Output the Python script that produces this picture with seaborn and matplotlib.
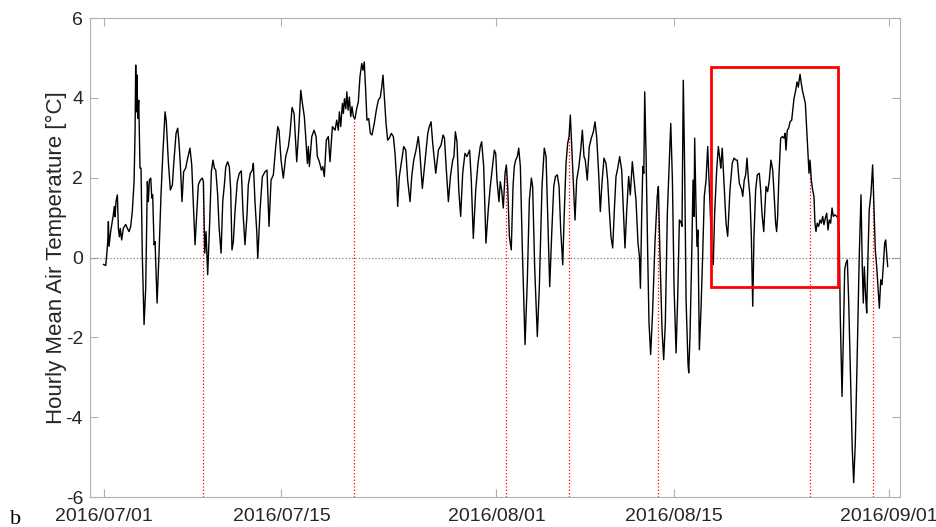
import matplotlib
matplotlib.use("Agg")
import matplotlib.pyplot as plt
import matplotlib.dates as mdates
from matplotlib.patches import Rectangle
import seaborn as sns
import numpy as np
import pandas as pd

# hourly mean air temperature (days after 2016/07/01, deg C)
day_offsets = [
    -0.08, 0.11, 0.19, 0.27, 0.32, 0.37, 0.50, 0.71, 0.79, 0.85, 0.92, 1.03, 1.11, 1.19, 1.26, 1.37,
    1.50, 1.69, 1.82, 1.95, 2.08, 2.21, 2.35, 2.43, 2.48, 2.53, 2.58, 2.64, 2.72, 2.82, 2.90, 3.00,
    3.14, 3.27, 3.40, 3.48, 3.56, 3.67, 3.75, 3.82, 3.93, 4.01, 4.17, 4.32, 4.48, 4.62, 4.80, 4.90,
    5.06, 5.22, 5.38, 5.48, 5.67, 5.80, 5.90, 6.01, 6.14, 6.27, 6.43, 6.59, 6.77, 6.91, 7.04, 7.17,
    7.30, 7.43, 7.59, 7.75, 7.83, 7.94, 8.04, 8.17, 8.33, 8.46, 8.59, 8.70, 8.81, 8.96, 9.07, 9.23,
    9.36, 9.49, 9.60, 9.75, 9.88, 9.99, 10.09, 10.20, 10.33, 10.51, 10.67, 10.83, 10.96, 11.12, 11.28, 11.38,
    11.54, 11.70, 11.78, 11.91, 12.05,
    12.13, 12.31, 12.49, 12.70, 12.86, 13.02, 13.18, 13.36, 13.55, 13.71, 13.81, 13.97, 14.15, 14.34, 14.55, 14.68,
    14.84, 15.00, 15.21, 15.37, 15.53, 15.66, 15.81, 15.92, 16.05, 16.13, 16.21, 16.40, 16.58, 16.74, 16.84, 17.00,
    17.16, 17.27, 17.39, 17.55, 17.71, 17.84, 18.03, 18.24, 18.37, 18.50, 18.58, 18.69, 18.82, 18.90, 18.98, 19.09,
    19.17, 19.27, 19.37, 19.48, 19.58, 19.69, 19.82, 19.95, 20.08, 20.21, 20.35, 20.45, 20.55, 20.66, 20.76, 20.90,
    21.03, 21.16, 21.34, 21.50, 21.66, 21.82, 21.93, 22.03, 22.14, 22.27, 22.40, 22.53, 22.69, 22.85, 22.98, 23.11,
    23.19, 23.32, 23.51, 23.67, 23.83, 23.98, 24.17, 24.30, 24.46, 24.64,
    24.82, 24.93, 25.14, 25.36, 25.57, 25.69, 25.83, 25.96, 26.20, 26.41, 26.62, 26.78, 26.89, 27.02, 27.20, 27.36,
    27.54, 27.64, 27.75, 27.88, 28.02, 28.17, 28.33, 28.51, 28.67, 28.77, 28.88, 29.01, 29.17, 29.36, 29.54, 29.72,
    29.83, 29.99, 30.17, 30.35, 30.51, 30.67, 30.83, 30.94, 31.04, 31.20, 31.30, 31.41, 31.54, 31.68, 31.78, 31.89,
    32.02, 32.17, 32.31, 32.41, 32.52, 32.65, 32.76, 32.89, 33.04, 33.26, 33.44, 33.60, 33.76, 33.86, 34.02, 34.23,
    34.39, 34.60, 34.78, 34.92, 35.05, 35.21, 35.37, 35.53, 35.66, 35.81, 35.95, 36.08, 36.24, 36.36, 36.50, 36.63,
    36.74, 36.84,
    37.03, 37.21, 37.34, 37.50, 37.66, 37.79, 37.92, 38.02, 38.18, 38.34, 38.50, 38.66, 38.79, 38.92, 39.08, 39.21,
    39.34, 39.50, 39.66, 39.79, 39.92, 40.05, 40.19, 40.32, 40.45, 40.59, 40.74, 40.90, 41.03, 41.16, 41.30, 41.45,
    41.58, 41.74, 41.90, 42.03, 42.19, 42.30, 42.38, 42.49, 42.57, 42.65, 42.72, 42.83, 42.96, 43.06, 43.19, 43.35,
    43.53, 43.71, 43.80, 43.93, 44.09, 44.22, 44.35, 44.51, 44.64, 44.78, 44.91, 45.04, 45.20, 45.33, 45.46, 45.57,
    45.67, 45.77, 45.88, 45.99, 46.14, 46.20, 46.30, 46.43, 46.54, 46.62, 46.67, 46.77, 46.85, 46.93, 47.04, 47.17,
    47.30, 47.43, 47.57, 47.70, 47.88, 48.01, 48.14, 48.25, 48.41, 48.54,
    48.67, 48.73, 48.85, 48.99, 49.15, 49.28, 49.46, 49.64, 49.78, 49.94, 50.04, 50.20, 50.39, 50.47, 50.59, 50.70,
    50.81, 50.91, 51.04, 51.15, 51.26, 51.36, 51.49, 51.62, 51.78, 51.89, 51.99, 52.13, 52.23, 52.31, 52.44, 52.57,
    52.70, 52.84, 52.96, 53.07, 53.15, 53.23, 53.33, 53.47, 53.60, 53.73, 53.81, 53.89, 53.99, 54.10, 54.21, 54.34,
    54.42, 54.52, 54.66, 54.76, 54.86, 55.00, 55.10, 55.21, 55.31, 55.42, 55.53, 55.63, 55.71, 55.79, 55.89, 56.00,
    56.10, 56.18, 56.26, 56.36, 56.47, 56.58, 56.68, 56.79, 56.89, 57.00, 57.11, 57.21, 57.31, 57.42, 57.53, 57.63,
    57.76, 57.90, 58.00, 58.10, 58.18, 58.32, 58.42, 58.53, 58.63, 58.74, 58.85, 59.00, 59.13, 59.24, 59.37, 59.53,
    59.68, 59.82, 59.92, 60.00, 60.08, 60.19, 60.27, 60.37, 60.47, 60.61, 60.74, 60.85, 60.95, 61.06, 61.19, 61.27,
    61.38, 61.48, 61.58, 61.69, 61.77, 61.85, 61.93,
]
temps = [
    -0.17, -0.20, 0.07, 0.40, 0.90, 0.28, 0.65, 1.07, 1.28, 1.02, 1.40, 1.57, 0.73, 0.52, 0.73, 0.44,
    0.73, 0.83, 0.73, 0.65, 0.77, 1.15, 1.90, 3.15, 4.82, 3.65, 4.57, 3.49, 3.94, 2.24, 2.24, 0.07,
    -1.68, -0.77, 1.90, 1.40, 1.94, 1.99, 1.49, 1.57, 0.32, 0.40, -1.14, 0.07, 1.57, 2.57, 3.65, 3.40,
    2.40, 1.69, 1.82, 2.32, 3.11, 3.24, 2.90, 2.32, 1.40, 2.15, 2.24, 2.49, 2.74, 2.32, 1.32, 0.32,
    1.07, 1.82, 1.94, 1.99, 1.90, 0.11, 0.65, -0.43, 0.90, 2.15, 2.44, 2.24, 2.19, 1.57, 0.77, 0.11,
    1.40, 1.82, 2.27, 2.40, 2.27, 1.69, 0.19, 0.40, 1.15, 1.90, 2.11, 2.17, 1.15, 0.32, 1.07, 1.82,
    2.11, 2.19, 2.36, 1.40, 0.65,
    -0.02, 1.19, 2.02, 2.15, 2.19, 0.78, 1.94, 2.07, 2.78, 3.28, 3.19, 2.44, 1.99, 2.53, 2.78, 3.11,
    3.76, 3.61, 2.40, 3.19, 4.19, 3.86, 3.53, 3.03, 2.36, 2.78, 2.28, 3.03, 3.19, 3.03, 2.53, 2.40,
    2.19, 2.28, 2.03, 2.94, 3.03, 2.40, 3.28, 3.19, 3.44, 3.19, 3.65, 3.28, 3.86, 3.61, 3.98, 3.73,
    4.15, 3.69, 4.02, 3.53, 3.78, 3.53, 3.48, 3.73, 3.90, 4.53, 4.86, 4.69, 4.90, 4.19, 3.44, 3.48,
    3.11, 3.07, 3.36, 3.69, 3.94, 4.02, 4.27, 4.57, 4.02, 3.36, 2.94, 2.99, 3.11, 3.03, 2.61, 1.94,
    1.28, 2.03, 2.44, 2.78, 2.69, 1.94, 1.40, 2.03, 2.44, 2.69,
    3.03, 2.69, 1.73, 2.44, 3.11, 3.28, 3.40, 2.86, 2.11, 2.69, 2.82, 3.07, 2.99, 2.28, 1.40, 2.03,
    2.44, 2.53, 3.15, 2.90, 1.69, 1.03, 2.11, 2.61, 2.53, 2.61, 2.69, 1.94, 0.48, 1.69, 2.36, 2.78,
    2.90, 2.28, 0.36, 1.19, 1.78, 2.24, 2.69, 2.61, 1.94, 1.40, 1.90, 1.69, 1.24, 2.11, 2.32, 1.78,
    0.53, 0.19, 1.78, 2.28, 2.44, 2.53, 2.74, 2.28, 0.28, -2.18, -0.56, 1.44, 1.99, 1.78, -0.23, -1.98,
    -0.73, 1.78, 2.74, 2.53, 1.11, -0.73, 0.61, 1.78, 2.03, 2.07, 1.78, 0.69, -0.18, 1.11, 2.36, 2.86,
    3.03, 3.57,
    2.19, 0.94, 1.94, 2.24, 2.69, 3.19, 2.53, 2.44, 1.94, 2.78, 2.99, 3.15, 3.40, 3.03, 2.11, 1.15,
    1.86, 2.49, 2.36, 1.94, 1.19, 0.53, 0.24, 1.19, 2.03, 2.24, 2.53, 2.19, 1.19, 0.24, 1.19, 2.03,
    1.57, 2.40, 1.86, 1.44, 0.36, 0.03, -0.77, 1.19, 2.28, 2.11, 4.15, 2.53, 0.03, -1.64, -2.43, -1.31,
    0.36, 1.53, 1.78, 0.03, -1.81, -2.56, -1.64, 1.11, 2.19, 3.36, 1.94, -0.73, -2.39, -0.98, 0.94, 0.90,
    0.78, 4.44, 2.19, -1.06, -2.64, -2.89, -1.98, -0.06, 1.94, 1.03, 2.99, 1.36, 0.28, 0.69, -2.31, -1.31,
    0.03, 1.53, 1.94, 2.78, 1.36, 0.19, -0.18, 1.11, 2.19, 2.78,
    2.44, 2.24, 2.74, 1.86, 0.86, 0.53, 1.69, 2.36, 2.49, 2.44, 2.44, 1.86, 1.69, 1.53, 1.94, 2.07,
    2.49, 1.99, 1.53, 0.53, -1.22, 0.53, 1.69, 2.07, 2.11, 1.69, 1.11, 0.65, 1.28, 1.78, 1.65, 1.94,
    2.44, 2.19, 1.53, 0.86, 0.65, 1.03, 2.03, 2.99, 3.03, 2.99, 3.11, 2.69, 3.19, 3.24, 3.40, 3.44,
    3.69, 3.98, 4.19, 4.40, 4.27, 4.59, 4.36, 4.15, 4.02, 3.86, 3.19, 2.53, 2.11, 2.44, 1.94, 1.69,
    1.53, 0.86, 0.65, 0.86, 0.78, 0.94, 0.86, 1.03, 0.82, 0.99, 1.11, 0.69, 0.94, 0.86, 1.24, 1.03,
    1.07, 1.03, 0.99, 0.53, -1.47, -3.48, -2.06, -0.31, -0.14, -0.06, -1.14, -3.14, -4.81, -5.64, -4.64, -2.31,
    0.03, 1.57, -0.23, -1.14, -0.23, -0.98, -1.39, 0.03, 1.19, 1.61, 2.32, 1.19, 0.19, -0.23, -0.89, -1.27,
    -0.56, -0.68, -0.23, 0.36, 0.44, 0.11, -0.23,
]

# red dotted event markers (days after 2016/07/01)
event_days = [7.77, 19.77, 31.77, 36.77, 43.77, 55.77, 60.77]

# highlighted window
box_start = "2016-08-18"
box_end = "2016-08-28"
box_low, box_high = -0.75, 4.77

tick_dates = ["2016-07-01", "2016-07-15", "2016-08-01", "2016-08-15", "2016-09-01"]

sns.set_style("ticks")
plt.rcParams["font.family"] = ["Liberation Sans", "DejaVu Sans"]
plt.rcParams["axes.unicode_minus"] = False

start = pd.Timestamp("2016-07-01")
times = start + pd.to_timedelta(day_offsets, unit="D")
event_times = start + pd.to_timedelta(event_days, unit="D")
event_tops = np.interp(event_days, day_offsets, temps)

fig = plt.figure(figsize=(9.36, 5.27), dpi=100)
ax = fig.add_axes([0.0962, 0.0569, 0.8653, 0.9089])

ax.axhline(0, color="#808080", ls=":", lw=0.9, zorder=1)
ax.vlines(event_times, -6, event_tops, colors="red", linestyles=":", lw=0.9, zorder=1)

sns.lineplot(x=times, y=temps, ax=ax, color="black", lw=1.0, zorder=3)

x0 = mdates.date2num(pd.Timestamp(box_start))
x1 = mdates.date2num(pd.Timestamp(box_end))
ax.add_patch(Rectangle((x0, box_low), x1 - x0, box_high - box_low,
                       fill=False, ec="red", lw=2.0, zorder=4))

ax.set_xlim(start - pd.Timedelta(days=1.13), start + pd.Timedelta(days=62.9))
ax.set_ylim(-6, 6)
ax.set_yticks([-6, -4, -2, 0, 2, 4, 6])
ax.set_xticks(pd.to_datetime(tick_dates))
ax.xaxis.set_major_formatter(mdates.DateFormatter("%Y/%m/%d"))

ax.tick_params(direction="in", length=6, width=0.8, top=True, right=True,
               color="#b0b0b0", labelcolor="#262626", labelsize=14)
ax.tick_params(axis="x", pad=8)
ax.tick_params(axis="y", pad=5)
for s in ax.spines.values():
    s.set_color("#b0b0b0")
    s.set_linewidth(0.8)

ax.set_xlabel("")
ax.set_ylabel("Hourly Mean Air Temperature [°C]", fontsize=16, color="#262626")
ax.yaxis.set_label_coords(-0.028, 0.5)

fig.text(10 / 936, 0.006, "b", family="Liberation Serif", fontsize=16, color="black")

fig.savefig("out.png", dpi=100)
